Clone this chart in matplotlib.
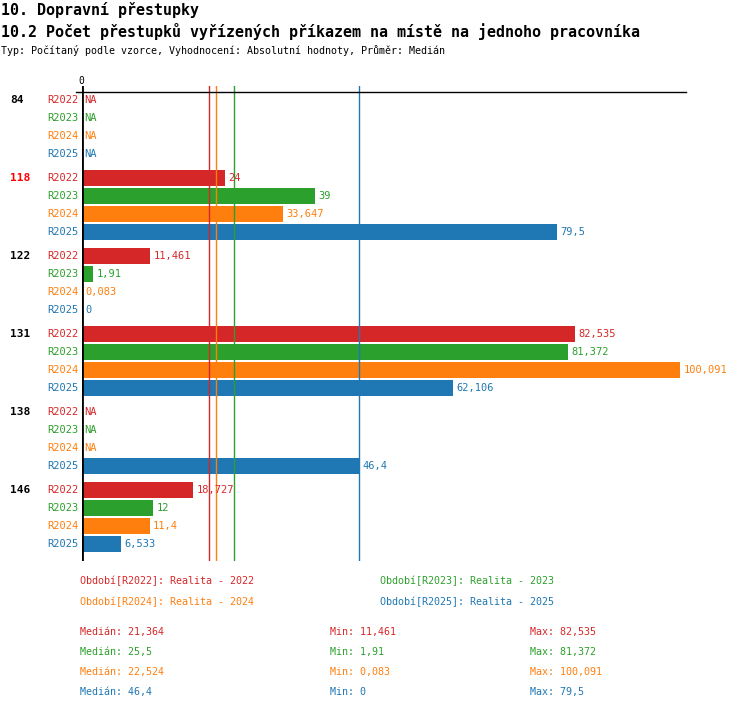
import numpy as np
import matplotlib
matplotlib.use("Agg")
import matplotlib.pyplot as plt
from matplotlib.transforms import blended_transform_factory

# data
groups = ['84', '118', '122', '131', '138', '146']
highlight = '118'
series = ['R2022', 'R2023', 'R2024', 'R2025']
years = ['2022', '2023', '2024', '2025']
r2022 = [None, 24, 11.461, 82.535, None, 18.727]
r2023 = [None, 39, 1.91, 81.372, None, 12]
r2024 = [None, 33.647, 0.083, 100.091, None, 11.4]
r2025 = [None, 79.5, 0, 62.106, 46.4, 6.533]
colors = ['#d62728', '#2ca02c', '#ff7f0e', '#1f77b4']

title1 = '10. Dopravní přestupky'
title2 = '10.2 Počet přestupků vyřízených příkazem na místě na jednoho pracovníka'
subtitle = 'Typ: Počítaný podle vzorce, Vyhodnocení: Absolutní hodnoty, Průměr: Medián'

plt.rcParams['font.family'] = ['DejaVu Sans Mono']

W, H = 750, 710


def fmt(v):
    s = f"{v + 1e-9:.3f}".rstrip('0').rstrip('.')
    return s.replace('.', ',')


def fx(px):
    return px / W


def fy(py):
    return 1 - py / H


fig = plt.figure(figsize=(W / 100, H / 100), dpi=100)
# axes placed in pixel layout of the original
x0, x1, ytop, ybot = 81.5, 686, 86, 561
ax = fig.add_axes([fx(x0), fy(ybot), fx(x1 - x0), (ybot - ytop) / H])
scale = 5.98
ax.set_xlim(0, (x1 - x0) / scale)
row = 18.0
gap = 4 + 6 / row
ax.set_ylim((544 - 100 + (ybot - 544)) / row, -(100 - ytop) / row)
ax.axis('off')

all_vals = [r2022, r2023, r2024, r2025]
trans_lbl = blended_transform_factory(fig.transFigure, ax.transData)

for g, grp in enumerate(groups):
    base = g * gap
    ax.text(fx(10), base, grp, transform=trans_lbl, ha='left', va='center',
            fontsize=8, fontweight='bold',
            color='#ff0000' if grp == highlight else 'black')
    for k, (name, vals, c) in enumerate(zip(series, all_vals, colors)):
        y = base + k
        ax.text(fx(78), y, name, transform=trans_lbl, ha='right', va='center',
                fontsize=7.5, color=c)
        v = vals[g]
        if v is None:
            ax.annotate('NA', (0, y), xytext=(2, 0), textcoords='offset points',
                        ha='left', va='center', fontsize=7.5, color=c)
        else:
            ax.barh(y, v, height=16 / row, color=c, left=0)
            ax.annotate(fmt(v), (v, y), xytext=(2.5, 0), textcoords='offset points',
                        ha='left', va='center', fontsize=7.5, color=c)

# median lines
for vals, c in zip(all_vals, colors):
    arr = np.array([v for v in vals if v is not None], dtype=float)
    ax.axvline(np.median(arr), color=c, lw=1)

ax.axvline(0, color='black', lw=2)
yaxis_line = -(100 - 92) / row
ax.plot([-1, (x1 - x0) / scale], [yaxis_line, yaxis_line], color='black', lw=1,
        clip_on=False)
ax.text(0, yaxis_line - 0.35, '0', ha='center', va='bottom', fontsize=7)

# titles
fig.text(fx(1), fy(10), title1, fontsize=10.8, fontweight='bold', va='center')
fig.text(fx(1), fy(31), title2, fontsize=10.8, fontweight='bold', va='center')
fig.text(fx(1), fy(50), subtitle, fontsize=7.2, va='center')

# legend block
leg_pos = [(80, 581), (380, 581), (80, 602), (380, 602)]
for (px, py), name, yr, c in zip(leg_pos, series, years, colors):
    fig.text(fx(px), fy(py), f'Období[{name}]: Realita - {yr}', fontsize=7.2,
             color=c, va='center')

for i, (vals, c) in enumerate(zip(all_vals, colors)):
    arr = np.array([v for v in vals if v is not None], dtype=float)
    py = 632 + i * 20
    fig.text(fx(80), fy(py), f'Medián: {fmt(np.median(arr))}', fontsize=7.2,
             color=c, va='center')
    fig.text(fx(330), fy(py), f'Min: {fmt(arr.min())}', fontsize=7.2,
             color=c, va='center')
    fig.text(fx(530), fy(py), f'Max: {fmt(arr.max())}', fontsize=7.2,
             color=c, va='center')

fig.savefig('out.png', dpi=100)
